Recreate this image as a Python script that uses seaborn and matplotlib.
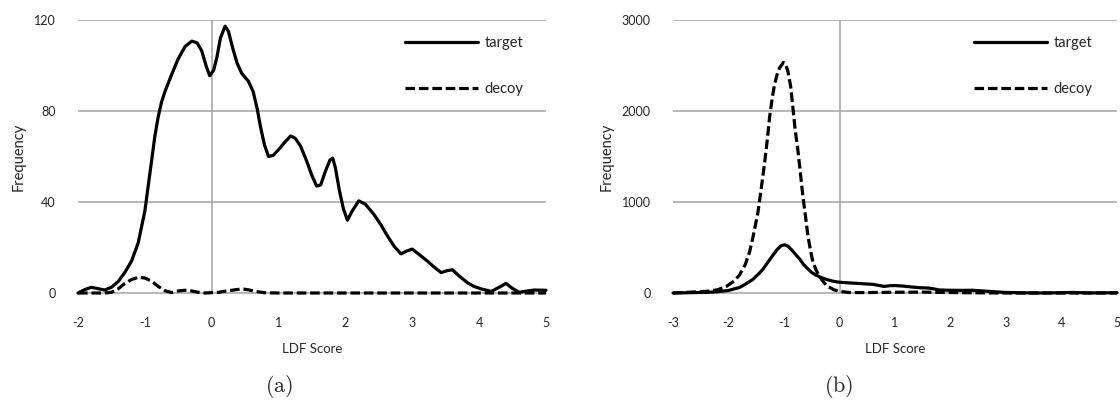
import matplotlib
matplotlib.use("Agg")
import matplotlib.pyplot as plt
import seaborn as sns
import pandas as pd

# ---- score distributions (LDF score vs. frequency) ----
target_a_x = [-2.0, -1.9, -1.8, -1.7, -1.6, -1.5, -1.4, -1.3, -1.2, -1.1, -1.0, -0.95, -0.9, -0.85,
              -0.8, -0.75, -0.7, -0.6, -0.5, -0.4, -0.3, -0.22, -0.15, -0.08, -0.03, 0.03, 0.08,
              0.13, 0.2, 0.25, 0.32, 0.38, 0.45, 0.55, 0.62, 0.68, 0.73, 0.79, 0.85, 0.92, 1.0,
              1.1, 1.18, 1.25, 1.33, 1.42, 1.5, 1.57, 1.63, 1.7, 1.77, 1.81, 1.85, 1.91, 1.97,
              2.03, 2.1, 2.2, 2.3, 2.43, 2.53, 2.63, 2.73, 2.83, 2.92, 3.0, 3.1, 3.23, 3.33,
              3.43, 3.52, 3.6, 3.7, 3.83, 3.93, 4.03, 4.18, 4.3, 4.4, 4.5, 4.6, 4.7, 4.82, 5.0]
target_a_y = [0, 1.5, 2.5, 1.9, 1.3, 2.5, 5, 9, 14, 22, 36, 47, 58, 69,
              77.5, 84, 88.5, 96, 103, 108.3, 110.7, 110, 106.5, 99.5, 95.5, 98, 104,
              112, 117.3, 115, 107, 101, 96.5, 93, 88.5, 81, 73, 65, 60, 60.5, 63,
              66.5, 69, 68, 64.5, 58, 51.5, 47, 47.5, 53.5, 58.5, 59.3, 55, 45, 37,
              32, 36, 40.5, 39, 34.4, 30, 25, 20.5, 17.2, 18.5, 19.3, 17, 13.9, 11.3,
              9, 9.8, 10.2, 7.5, 4.4, 2.8, 1.8, 0.7, 2.5, 4.2, 2, 0.3, 0.8, 1.3, 1.2]

decoy_a_x = [-2.0, -1.6, -1.5, -1.4, -1.3, -1.2, -1.1, -1.0, -0.9, -0.8, -0.7, -0.6, -0.5,
             -0.4, -0.3, -0.2, -0.1, 0.1, 0.2, 0.3, 0.45, 0.55, 0.65, 0.8, 1.0, 2.0, 3.0, 4.0, 5.0]
decoy_a_y = [0, 0, 0.3, 1.8, 4.2, 5.9, 6.9, 6.6, 5.2, 2.9, 1.0, 0.2, 0.9,
             1.2, 0.9, 0.3, 0, 0.3, 0.8, 1.2, 1.8, 1.4, 0.7, 0.1, 0, 0, 0, 0, 0]

target_b_x = [-3.0, -2.4, -2.2, -2.0, -1.8, -1.7, -1.56, -1.45, -1.38, -1.3, -1.2, -1.12, -1.05,
              -0.99, -0.93, -0.87, -0.8, -0.72, -0.65, -0.57, -0.5, -0.42, -0.33, -0.24, -0.12,
              0.0, 0.2, 0.4, 0.6, 0.72, 0.8, 0.9, 1.0, 1.15, 1.3, 1.45, 1.6, 1.7, 1.8, 2.0,
              2.2, 2.4, 2.6, 2.8, 3.0, 3.3, 3.6, 4.0, 4.2, 4.5, 5.0]
target_b_y = [0, 7, 14, 28, 61, 95, 150, 215, 260, 330, 415, 480, 520,
              530, 515, 480, 430, 375, 315, 265, 225, 195, 170, 150, 130,
              118, 110, 103, 95, 82, 72, 80, 82, 76, 66, 58, 55, 45, 33, 30,
              29, 30, 22, 13, 6, 2, 0, 3, 6, 1, 3]

decoy_b_x = [-3.0, -2.4, -2.2, -2.04, -1.9, -1.8, -1.7, -1.62, -1.55, -1.47, -1.41, -1.35, -1.3,
             -1.26, -1.21, -1.17, -1.12, -1.08, -1.01, -0.97, -0.93, -0.88, -0.84, -0.8, -0.75,
             -0.7, -0.66, -0.61, -0.57, -0.52, -0.48, -0.42, -0.36, -0.28, -0.21, -0.1, 0.0,
             0.18, 0.5, 1.0, 1.5, 2.0, 2.5, 3.0, 5.0]
decoy_b_y = [0, 18, 35, 72, 130, 199, 310, 451, 640, 884, 1150, 1426, 1690,
             1931, 2150, 2292, 2410, 2473, 2534, 2510, 2437, 2270, 2040, 1800, 1570,
             1290, 1065, 830, 632, 460, 343, 250, 181, 115, 72, 35, 18,
             5, 5, 8, 10, 5, 2, 0, 0]

series_names = ["target", "decoy"]
yticks_a = [0, 40, 80, 120]
yticks_b = [0, 1000, 2000, 3000]
xticks_a = list(range(-2, 6))
xticks_b = list(range(-3, 6))
x_label = "LDF Score"
y_label = "Frequency"
captions = ["(a)", "(b)"]

sns.set_style("white")
plt.rcParams["font.family"] = ["Lato", "DejaVu Sans"]
plt.rcParams["mathtext.fontset"] = "cm"

GRID = "#a3a3a3"
LW = 2.3


def frame(xs, ys, name):
    return pd.DataFrame({"score": xs, "freq": ys, "series": name})


fig = plt.figure(figsize=(11.2, 4.13), dpi=100)
ax_a = fig.add_axes([78 / 1120, 1 - 293 / 413, 468 / 1120, 273 / 413])
ax_b = fig.add_axes([673 / 1120, 1 - 293 / 413, 444 / 1120, 273 / 413])

panels = [
    (ax_a, frame(target_a_x, target_a_y, "target"), frame(decoy_a_x, decoy_a_y, "decoy"),
     xticks_a, yticks_a, 0.699),
    (ax_b, frame(target_b_x, target_b_y, "target"), frame(decoy_b_x, decoy_b_y, "decoy"),
     xticks_b, yticks_b, 0.678),
]

for ax, df_t, df_d, xt, yt, leg_x in panels:
    df = pd.concat([df_t, df_d], ignore_index=True)
    # horizontal gridlines and the vertical axis through zero
    for v in yt[1:]:
        ax.axhline(v, color=GRID, lw=1.1, zorder=1)
    ax.axvline(0, color=GRID, lw=1.1, zorder=1)

    sns.lineplot(data=df, x="score", y="freq", hue="series", style="series",
                 hue_order=series_names, style_order=series_names,
                 palette={"target": "black", "decoy": "black"},
                 dashes={"target": "", "decoy": (3, 1.2)},
                 lw=LW, sort=False, estimator=None, ax=ax, zorder=3, clip_on=False)

    ax.set_xlim(xt[0], xt[-1])
    ax.set_ylim(yt[0], yt[-1])
    ax.set_xticks(xt)
    ax.set_yticks(yt)
    ax.set_xticklabels([str(v) for v in xt], fontsize=9)
    ax.set_yticklabels([str(v) for v in yt], fontsize=9)
    ax.tick_params(axis="y", length=0, pad=16)
    ax.tick_params(axis="x", length=3.5, width=1.0, color=GRID, pad=14, direction="out")
    for s in ["top", "right", "left"]:
        ax.spines[s].set_visible(False)
    ax.spines["bottom"].set_color(GRID)
    ax.spines["bottom"].set_linewidth(1.1)
    ax.spines["bottom"].set_zorder(1)
    ax.set_xlabel(x_label, fontsize=9.5, labelpad=10)
    ax.set_ylabel(y_label, fontsize=10.5, labelpad=6)

    leg = ax.legend(loc="upper left", bbox_to_anchor=(leg_x, 0.94), frameon=False,
                    fontsize=10.5, handlelength=5.0, handletextpad=0.45, labelspacing=2.2,
                    borderpad=0, borderaxespad=0)
    for line in leg.get_lines():
        line.set_linewidth(LW)

fig.text(279 / 1120, 1 - 387 / 413, r"$\mathrm{" + captions[0] + "}$", fontsize=16,
         ha="center", va="center")
fig.text(839 / 1120, 1 - 387 / 413, r"$\mathrm{" + captions[1] + "}$", fontsize=16,
         ha="center", va="center")

fig.savefig("out.png", dpi=100)
